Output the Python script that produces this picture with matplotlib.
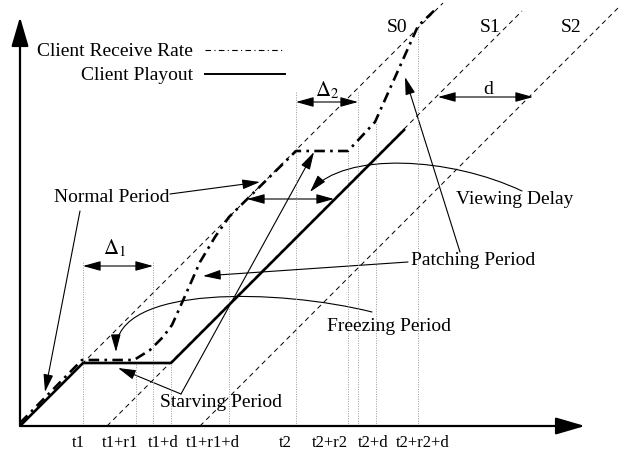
import matplotlib.pyplot as plt
from matplotlib.patches import FancyArrowPatch
from matplotlib.path import Path

plt.rcParams['font.family'] = ['Liberation Serif', 'DejaVu Serif']
plt.rcParams['mathtext.fontset'] = 'stix'

# diagram units follow the picture: x to the right, y downward
origin = (20, 427)
x_tip = 585
y_tip = 18

# client playout (solid)
playout_x = [20, 83, 171, 405]
playout_y = [427, 364, 364, 130]

# client receive rate (dash-dot)
receive_x = [20, 82, 134, 150, 163, 172, 185, 200, 215, 229, 296, 348, 375, 418, 437]
receive_y = [424, 361, 361, 351, 338, 326, 297, 263, 238, 218, 152, 152, 123, 27, 9]

# server streams (dashed), start and end points
stream_names = ['S0', 'S1', 'S2']
stream_start = [(20, 427), (107, 427), (200, 427)]
stream_end = [(443, 4), (522, 12), (618, 9)]
stream_label_x = [397, 490, 571]

# dotted guide lines
guide_x = [83, 136, 153, 171, 229, 296, 348, 358, 376, 418]
guide_top = [263, 364, 263, 364, 218, 93, 152, 93, 123, 28]

tick_x = [78, 120, 163, 213, 285, 330, 373, 423]
tick_labels = ['t1', 't1+r1', 't1+d', 't1+r1+d', 't2', 't2+r2', 't2+d', 't2+r2+d']


def arrow(ax, start, tip, style='-|>', lw=0.8):
    a = FancyArrowPatch(start, tip, arrowstyle=style + ',head_length=0.9,head_width=0.25',
                        mutation_scale=12, lw=lw, color='k', shrinkA=0, shrinkB=0)
    ax.add_patch(a)


def curved_arrow(ax, pts, lw=0.8):
    path = Path(pts, [Path.MOVETO, Path.CURVE4, Path.CURVE4, Path.CURVE4])
    a = FancyArrowPatch(path=path, arrowstyle='-|>,head_length=0.9,head_width=0.25',
                        mutation_scale=12, lw=lw, color='k', shrinkA=0, shrinkB=0)
    ax.add_patch(a)


def main():
    fig = plt.figure(figsize=(6.31, 4.56), dpi=100)
    ax = fig.add_axes([0, 0, 1, 1])
    ax.set_xlim(0, 631)
    ax.set_ylim(456, 0)
    ax.axis('off')

    # axes with arrow heads
    ax.annotate('', xy=(x_tip, origin[1]), xytext=origin,
                arrowprops=dict(arrowstyle='-|>,head_length=1.2,head_width=0.35',
                                mutation_scale=15, lw=1.6, color='k', shrinkA=0, shrinkB=0))
    ax.annotate('', xy=(origin[0], y_tip), xytext=origin,
                arrowprops=dict(arrowstyle='-|>,head_length=1.2,head_width=0.35',
                                mutation_scale=15, lw=1.6, color='k', shrinkA=0, shrinkB=0))

    # dotted guides
    for gx, gt in zip(guide_x, guide_top):
        ax.plot([gx, gx], [origin[1], gt], color='#999999', lw=0.7, ls=(0, (1, 1.5)))

    # streams
    for name, s, e, lx in zip(stream_names, stream_start, stream_end, stream_label_x):
        ax.plot([s[0], e[0]], [s[1], e[1]], color='k', lw=0.7, ls=(0, (5, 4)))
        ax.text(lx, 28, name, ha='center', va='center', fontsize=14)

    ax.plot(playout_x, playout_y, color='k', lw=1.9, solid_capstyle='butt')
    ax.plot(receive_x, receive_y, color='k', lw=1.9, ls=(0, (4, 2, 1, 2)))

    # legend
    ax.text(193, 52, 'Client Receive Rate', ha='right', va='center', fontsize=14)
    ax.text(193, 76, 'Client Playout', ha='right', va='center', fontsize=14)
    ax.plot([205, 285], [51, 51], color='k', lw=0.8, ls=(0, (5, 3, 1, 3)))
    ax.plot([205, 285], [75, 75], color='k', lw=1.4)

    # deltas and d
    arrow(ax, (83, 267), (153, 267), '<|-|>')
    ax.text(115, 248, r'$\Delta_1$', ha='center', va='center', fontsize=15)
    arrow(ax, (296, 103), (358, 103), '<|-|>')
    ax.text(327, 90, r'$\Delta_2$', ha='center', va='center', fontsize=15)
    arrow(ax, (438, 98), (533, 98), '<|-|>')
    ax.text(488, 90, 'd', ha='center', va='center', fontsize=14)

    # annotations
    ax.text(112, 198, 'Normal Period', ha='center', va='center', fontsize=14)
    arrow(ax, (170, 195), (260, 183))
    arrow(ax, (80, 212), (45, 393))

    ax.text(515, 200, 'Viewing Delay', ha='center', va='center', fontsize=14)
    curved_arrow(ax, [(522, 192), (450, 158), (345, 152), (310, 193)])
    arrow(ax, (247, 200), (334, 200), '<|-|>')

    ax.text(473, 261, 'Patching Period', ha='center', va='center', fontsize=14)
    arrow(ax, (408, 263), (203, 277))
    arrow(ax, (460, 253), (405, 78))

    ax.text(389, 327, 'Freezing Period', ha='center', va='center', fontsize=14)
    curved_arrow(ax, [(372, 313), (280, 290), (115, 285), (116, 353)])

    ax.text(221, 403, 'Starving Period', ha='center', va='center', fontsize=14)
    arrow(ax, (181, 395), (118, 369))
    arrow(ax, (181, 395), (314, 153))

    for tx, tl in zip(tick_x, tick_labels):
        ax.text(tx, 443, tl, ha='center', va='center', fontsize=12)

    fig.savefig('out.png', dpi=100)


if __name__ == '__main__':
    main()
